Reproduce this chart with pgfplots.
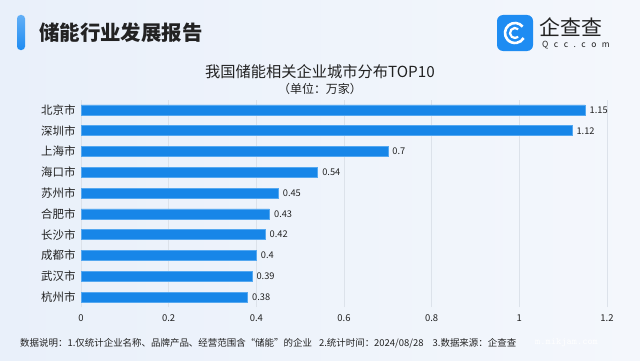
\documentclass[border=0pt]{standalone}
\usepackage{pgfplots}
\pgfplotsset{compat=1.18}
\usepackage{fontspec}
\setmainfont{Noto Sans CJK SC}
\definecolor{barblue}{HTML}{1786E8}
\definecolor{baredge}{HTML}{55A8F0}
\definecolor{bgL}{HTML}{E9F0FA}
\definecolor{bgR}{HTML}{F4F7FC}
\definecolor{gridc}{HTML}{DCE2EA}
\definecolor{txt}{HTML}{222222}
\definecolor{logoblue}{HTML}{1E8CF2}
\begin{document}
\begin{tikzpicture}[x=1bp,y=1bp]
\shade[left color=bgL, right color=bgR] (0,0) rectangle (640,360);
% header
\shade[top color=logoblue!70, bottom color=logoblue, rounded corners=3.5bp] (17,310) rectangle (25,345);
\node[anchor=west, inner sep=0pt, text=txt, font=\bfseries\fontsize{20.5}{22}\selectfont] at (39,327) {储能行业发展报告};
% logo
\fill[logoblue, rounded corners=6bp] (497,309) rectangle (533,345);
\draw[white, line width=2.6bp] (515,327) ++(40:10) arc (40:330:10);
\draw[white, line width=2.2bp] (515,327) ++(50:5) arc (50:310:5);
\node[anchor=west, inner sep=0pt, text=txt, font=\fontsize{21}{22}\selectfont] at (539,332.5) {企查查};
\node[anchor=west, inner sep=0pt, text=txt, font=\fontsize{8.5}{9}\selectfont] at (542,315) {Q\hspace{5.5bp}c\hspace{5.5bp}c\hspace{5.5bp}.\hspace{5.5bp}c\hspace{5.5bp}o\hspace{5.5bp}m};
% titles
\node[text=txt, inner sep=0pt, font=\fontsize{15.3}{16}\selectfont] at (320,288.5) {我国储能相关企业城市分布TOP10};
\node[text=txt, inner sep=0pt, font=\fontsize{12}{13}\selectfont] at (320,271.5) {（单位：万家）};
\begin{axis}[
  at={(81bp,52.6bp)}, anchor=south west,
  scale only axis, width=526bp, height=207.8bp,
  xmin=0, xmax=1.2, ymin=-0.5, ymax=9.5,
  enlargelimits=false,
  xbar, bar width=10bp,
  /pgf/number format/assume math mode=true,
  xtick={0,0.2,0.4,0.6,0.8,1,1.2},
  xticklabel style={font=\fontsize{9.5}{10}\selectfont, text=txt, yshift=-4bp},
  ytick={0,...,9},
  yticklabels={杭州市,武汉市,成都市,长沙市,合肥市,苏州市,海口市,上海市,深圳市,北京市},
  yticklabel style={font=\fontsize{11.5}{12}\selectfont, text=txt, xshift=-2bp},
  axis line style={draw=none},
  major tick length=0pt,
  xmajorgrids, grid style={color=gridc, line width=0.6bp},
  nodes near coords,
  nodes near coords style={font=\fontsize{9.3}{10}\selectfont, text=txt, anchor=west, xshift=1bp},
]
\addplot[fill=barblue, draw=baredge, line width=0.6bp] coordinates {
(0.38,0) (0.39,1) (0.4,2) (0.42,3) (0.43,4) (0.45,5) (0.54,6) (0.7,7) (1.12,8) (1.15,9)};
\end{axis}
% footer
\node[anchor=west, inner sep=0pt, text=txt, font=\fontsize{9.5}{10}\selectfont] at (20,17) {数据说明：1.仅统计企业名称、品牌产品、经营范围含“储能”的企业\hspace{7bp}2.统计时间：2024/08/28\hspace{9bp}3.数据来源：企查查};
\node[anchor=west, inner sep=0pt, text=white, font=\fontsize{10}{11}\selectfont\ttfamily] at (535,17) {m.mikjam.com};
\end{tikzpicture}
\end{document}
